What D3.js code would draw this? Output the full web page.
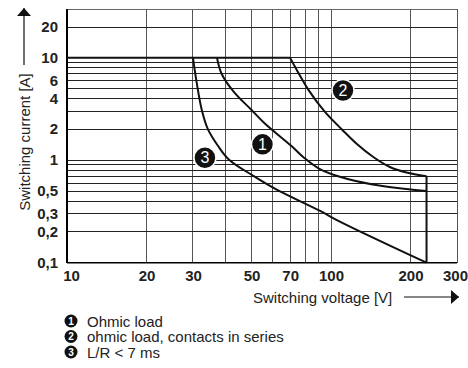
<!DOCTYPE html>
<html>
<head>
<meta charset="utf-8">
<script src="https://cdn.jsdelivr.net/npm/d3@7"></script>
<style>
  body { margin: 0; background: #fff; }
  svg { font-family: "Liberation Sans", Arial, sans-serif; }
</style>
</head>
<body>
<div class="chart"></div>
<script>
var width = 468,
    height = 368;

// grid and tick values
let xGrid = [10, 20, 30, 40, 50, 60, 70, 80, 90, 100, 200, 300];
let xTicks = [10, 20, 30, 50, 70, 100, 200, 300];
let yGrid = [0.1, 0.2, 0.3, 0.4, 0.5, 0.6, 0.7, 0.8, 0.9, 1, 2, 3, 4, 5, 6, 7, 8, 9, 10, 20, 30];
let yTicks = [0.1, 0.2, 0.3, 0.5, 1, 2, 4, 6, 10, 20];

// curves: [voltage V, current A]
let flatTop = [[10, 10], [70, 10]];
let ohmic = [[37, 10], [38.5, 7], [43, 4.6], [50, 3.1], [56, 2.3], [71, 1.37], [79, 1.06],
             [90, 0.83], [108, 0.69], [144, 0.58], [193, 0.525], [230, 0.5]];
let ohmicSeries = [[70, 10], [74, 7.7], [82, 4.9], [95, 2.95], [110, 2.0], [125, 1.45],
                   [145, 1.07], [167, 0.86], [193, 0.76], [230, 0.7]];
let lr7 = [[30, 10], [31, 5.7], [32.4, 3.1], [34.2, 2.0], [37.4, 1.37], [41, 1.02], [51, 0.7],
           [62, 0.52], [91, 0.32], [108, 0.252], [230, 0.1]];
let cutoff = [[230, 0.7], [230, 0.1]];

// curve number badges: [number, voltage, current]
let markers = [[1, 55, 1.43], [2, 111, 4.8], [3, 33.3, 1.06]];

let legendItems = ["Ohmic load", "ohmic load, contacts in series", "L/R < 7 ms"];

let svg = d3.select(".chart")
    .append("svg")
    .attr("width", width)
    .attr("height", height);

let x = d3.scaleLog().domain([10, 300]).range([67, 457]);
let y = d3.scaleLog().domain([0.1, 30]).range([262.7, 9]);

let fmt = d => String(d).replace(".", ",");

// grid
svg.append("g")
    .selectAll("line")
    .data(xGrid)
    .join("line")
    .attr("x1", d => x(d)).attr("x2", d => x(d))
    .attr("y1", y(0.1)).attr("y2", y(30))
    .attr("stroke", d => d == 10 ? "#000" : "#555")
    .attr("stroke-width", d => d == 10 ? 1.2 : 1)
    .attr("shape-rendering", "crispEdges");

svg.append("g")
    .selectAll("line")
    .data(yGrid)
    .join("line")
    .attr("x1", x(10)).attr("x2", x(300))
    .attr("y1", d => y(d)).attr("y2", d => y(d))
    .attr("stroke", d => d == 0.1 ? "#000" : (d == 30 ? "#666" : "#222"))
    .attr("stroke-width", d => d == 0.1 ? 1.2 : 1)
    .attr("shape-rendering", "crispEdges");

// curves
let line = d3.line()
    .x(d => x(d[0]))
    .y(d => y(d[1]))
    .curve(d3.curveCatmullRom.alpha(0.5));

let straight = d3.line().x(d => x(d[0])).y(d => y(d[1]));

[ohmic, ohmicSeries, lr7].forEach(function(c){
    svg.append("path")
        .attr("d", line(c))
        .attr("fill", "none")
        .attr("stroke", "#111")
        .attr("stroke-width", 2);
});

[flatTop, cutoff].forEach(function(c){
    svg.append("path")
        .attr("d", straight(c))
        .attr("fill", "none")
        .attr("stroke", "#111")
        .attr("stroke-width", 2);
});

// curve markers
let mk = svg.append("g")
    .selectAll("g")
    .data(markers)
    .join("g")
    .attr("transform", d => `translate(${x(d[1])}, ${y(d[2])})`);
mk.append("circle")
    .attr("r", 11)
    .attr("fill", "#111")
    .attr("stroke", "#fff")
    .attr("stroke-width", 1.5);
mk.append("text")
    .attr("text-anchor", "middle")
    .attr("dy", "5.5px")
    .attr("fill", "#fff")
    .style("font-size", "16px")
    .text(d => d[0]);

// axes labels
let xAxis = svg.append("g")
    .attr("transform", `translate(0, ${y(0.1)})`)
    .call(d3.axisBottom(x).tickValues(xTicks).tickSize(0).tickPadding(8).tickFormat(d => d));
xAxis.select(".domain").remove();
xAxis.selectAll("text")
    .style("font-size", "15px")
    .style("font-weight", "bold")
    .attr("fill", "#222")
    .attr("dx", d => d == 10 ? 4 : (d == 300 ? -2 : 0));

let yAxis = svg.append("g")
    .attr("transform", `translate(${x(10)}, 0)`)
    .call(d3.axisLeft(y).tickValues(yTicks).tickSize(0).tickPadding(9).tickFormat(fmt));
yAxis.select(".domain").remove();
yAxis.selectAll("text")
    .style("font-size", "15px")
    .style("font-weight", "bold")
    .attr("fill", "#222")
    .attr("dy", "0.3em");

// frame edges
svg.append("line")
    .attr("x1", x(10)).attr("x2", x(10)).attr("y1", y(30)).attr("y2", y(0.1))
    .attr("stroke", "#000").attr("stroke-width", 1.5);
svg.append("line")
    .attr("x1", x(10)).attr("x2", x(300)).attr("y1", y(0.1)).attr("y2", y(0.1))
    .attr("stroke", "#000").attr("stroke-width", 1.5);

// axis titles with arrows
svg.append("defs").append("marker")
    .attr("id", "arrow")
    .attr("viewBox", "0 0 10 10")
    .attr("refX", 10).attr("refY", 5)
    .attr("markerWidth", 8).attr("markerHeight", 14)
    .attr("markerUnits", "userSpaceOnUse")
    .attr("orient", "auto")
    .attr("preserveAspectRatio", "none")
    .append("path")
    .attr("d", "M0,0 L10,5 L0,10 z")
    .attr("fill", "#111");

svg.append("text")
    .attr("transform", "translate(30, 142) rotate(-90)")
    .attr("text-anchor", "middle")
    .style("font-size", "15px")
    .attr("fill", "#222")
    .text("Switching current [A]");
svg.append("line")
    .attr("x1", 24).attr("x2", 24).attr("y1", 65).attr("y2", 8)
    .attr("stroke", "#111").attr("stroke-width", 1.2)
    .attr("marker-end", "url(#arrow)");

svg.append("text")
    .attr("x", 253).attr("y", 303)
    .style("font-size", "15px")
    .attr("fill", "#222")
    .text("Switching voltage [V]");
svg.append("line")
    .attr("x1", 404).attr("x2", 459).attr("y1", 297).attr("y2", 297)
    .attr("stroke", "#111").attr("stroke-width", 1.2)
    .attr("marker-end", "url(#arrow)");

// legend
let lg = svg.append("g")
    .selectAll("g")
    .data(legendItems)
    .join("g")
    .attr("transform", (d, i) => `translate(71, ${321 + i * 15.5})`);
lg.append("circle")
    .attr("r", 6.5)
    .attr("fill", "#111");
lg.append("text")
    .attr("text-anchor", "middle")
    .attr("dy", "3.5px")
    .attr("fill", "#fff")
    .style("font-size", "10px")
    .style("font-weight", "bold")
    .text((d, i) => i + 1);
lg.append("text")
    .attr("x", 16)
    .attr("dy", "5.5px")
    .attr("fill", "#222")
    .style("font-size", "15px")
    .text(d => d);
</script>
</body>
</html>
